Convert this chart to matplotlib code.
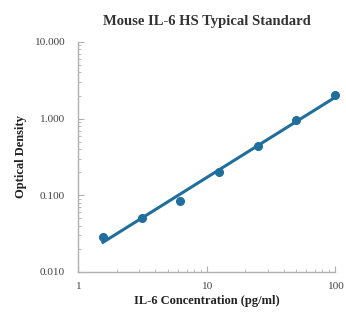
import numpy as np
import matplotlib
matplotlib.use("Agg")
import matplotlib.pyplot as plt
from matplotlib.ticker import FixedLocator, FixedFormatter, LogLocator, NullFormatter

# standard curve
konz = [1.56, 3.125, 6.25, 12.5, 25, 50, 100]
od = [0.029, 0.050, 0.084, 0.203, 0.44, 0.955, 2.03]

y_ticks = [0.01, 0.1, 1, 10]
y_labels = ["0.010", "0.100", "1.000", "10.000"]
x_ticks = [1, 10, 100]
x_labels = ["1", "10", "100"]

farbe = "#1f6e9c"
grau = "#b0b0b0"

plt.rcParams["font.family"] = ["Liberation Serif", "DejaVu Serif"]

fig = plt.figure(figsize=(3.46, 3.13), dpi=100)
ax = fig.add_axes([0.226, 0.131, 0.742, 0.735])

# log-log fit wie im Original
p = np.polyfit(np.log10(konz), np.log10(od), 1)
x_fit = np.logspace(np.log10(konz[0]), np.log10(konz[-1]), 50)
y_fit = 10 ** np.polyval(p, np.log10(x_fit))

ax.plot(x_fit, y_fit, color=farbe, lw=2.2, zorder=2)
ax.plot(konz, od, "o", color=farbe, ms=5.5, zorder=3, clip_on=False)

ax.set_xscale("log")
ax.set_yscale("log")
ax.set_xlim(1, 100)
ax.set_ylim(0.01, 10)

ax.yaxis.set_major_locator(FixedLocator(y_ticks))
ax.yaxis.set_major_formatter(FixedFormatter(y_labels))
ax.xaxis.set_major_locator(FixedLocator(x_ticks))
ax.xaxis.set_major_formatter(FixedFormatter(x_labels))
ax.xaxis.set_minor_locator(LogLocator(base=10, subs=np.arange(2, 10)))
ax.yaxis.set_minor_locator(LogLocator(base=10, subs=np.arange(2, 10)))
ax.xaxis.set_minor_formatter(NullFormatter())
ax.yaxis.set_minor_formatter(NullFormatter())

for s in ["top", "right"]:
    ax.spines[s].set_visible(False)
for s in ["left", "bottom"]:
    ax.spines[s].set_color(grau)
    ax.spines[s].set_linewidth(1.0)

ax.tick_params(which="both", direction="in", color=grau, labelsize=8.2, labelcolor="#444444")
ax.tick_params(which="major", length=4)
ax.tick_params(which="minor", length=2.5)
ax.tick_params(axis="y", pad=10)
ax.tick_params(axis="x", pad=7)

ax.set_title("Mouse IL-6 HS Typical Standard", fontsize=10.5, fontweight="bold", color="#333333", pad=12)
ax.set_xlabel("IL-6 Concentration (pg/ml)", fontsize=9, fontweight="bold", color="#222222", labelpad=3)
ax.set_ylabel("Optical Density", fontsize=9, fontweight="bold", color="#222222", labelpad=5)

fig.savefig("out.png", dpi=100)
